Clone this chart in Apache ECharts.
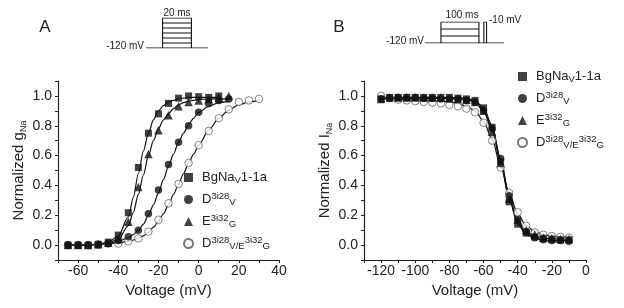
<!DOCTYPE html>
<html>
<head>
<meta charset="utf-8">
<script src="https://cdn.jsdelivr.net/npm/echarts@6/dist/echarts.min.js"></script>
<style>
  html, body { margin: 0; padding: 0; background: #fff; }
  #main { width: 624px; height: 308px; }
</style>
</head>
<body>
<div id="main"></div>
<script>
  var names = ['BgNav1-1a', 'D3i28V', 'E3i32G', 'D3i28V/E3i32G'];

  // panel A: activation (normalized gNa)
  var voltA = [-65, -60, -55, -50, -45, -40, -35, -30, -25, -20, -15, -10, -5, 0, 5, 10, 15, 20, 25, 30];
  var gBg   = [0, 0, 0, 0.005, 0.02, 0.067, 0.217, 0.52, 0.75, 0.88, 0.95, 0.985, 1.0, 0.995, 0.99, 1.0];
  var gD    = [0, 0, 0, 0.005, 0.01, 0.03, 0.056, 0.10, 0.21, 0.37, 0.54, 0.69, 0.80, 0.89, 0.95, 0.97, 0.98];
  var gE    = [0, 0, 0, 0.005, 0.015, 0.04, 0.156, 0.39, 0.61, 0.77, 0.87, 0.93, 0.96, 0.97, 0.98, 0.99, 1.0];
  var gDE   = [0, 0, 0, 0, 0.01, 0.01, 0.025, 0.045, 0.09, 0.17, 0.28, 0.41, 0.55, 0.67, 0.765, 0.85, 0.91, 0.96, 0.97, 0.98];

  // fitted curves
  var fitVoltA = [-65, -60, -55, -50, -45, -40, -35, -32.5, -30, -27.5, -25, -22.5, -20, -17.5, -15, -12.5, -10, -7.5, -5, -2.5, 0, 5, 10, 15, 20, 25, 30];
  var fitBg = [0, 0, 0.002, 0.006, 0.02, 0.06, 0.19, 0.32, 0.48, 0.63, 0.75, 0.84, 0.9, 0.935, 0.96, 0.97, 0.98, 0.985, 0.99, 0.99, 0.99, 0.99, 0.99];
  var fitE  = [0, 0, 0.002, 0.006, 0.015, 0.04, 0.13, 0.22, 0.34, 0.47, 0.6, 0.7, 0.78, 0.84, 0.88, 0.915, 0.94, 0.955, 0.965, 0.97, 0.975, 0.98, 0.98, 0.98];
  var fitD  = [0, 0, 0.002, 0.005, 0.01, 0.025, 0.05, 0.07, 0.1, 0.14, 0.2, 0.27, 0.35, 0.44, 0.53, 0.61, 0.69, 0.75, 0.81, 0.85, 0.89, 0.93, 0.955, 0.965];
  var fitDE = [0, 0, 0.001, 0.003, 0.008, 0.015, 0.025, 0.034, 0.045, 0.062, 0.085, 0.12, 0.16, 0.21, 0.27, 0.34, 0.41, 0.48, 0.55, 0.61, 0.67, 0.77, 0.85, 0.905, 0.94, 0.96, 0.97];

  // panel B: inactivation (normalized INa)
  var voltB = [-120, -115, -110, -105, -100, -95, -90, -85, -80, -75, -70, -65, -60, -55, -50, -45, -40, -35, -30, -25, -20, -15, -10];
  var iBg = [0.98, 0.99, 0.99, 0.99, 0.99, 0.99, 0.99, 0.99, 0.99, 0.985, 0.98, 0.97, 0.92, 0.79, 0.56, 0.29, 0.14, 0.08, 0.055, 0.045, 0.04, 0.035, 0.035];
  var iD  = [0.98, 0.985, 0.99, 0.99, 0.99, 0.985, 0.985, 0.98, 0.98, 0.98, 0.97, 0.96, 0.9, 0.78, 0.58, 0.33, 0.17, 0.09, 0.05, 0.035, 0.03, 0.03, 0.025];
  var iE  = [0.98, 0.99, 0.99, 0.99, 0.99, 0.99, 0.99, 0.99, 0.985, 0.98, 0.975, 0.96, 0.9, 0.76, 0.55, 0.31, 0.17, 0.1, 0.07, 0.05, 0.045, 0.04, 0.04];
  var iDE = [1.0, 0.985, 0.975, 0.97, 0.965, 0.96, 0.955, 0.95, 0.94, 0.93, 0.915, 0.89, 0.82, 0.7, 0.52, 0.35, 0.22, 0.13, 0.085, 0.07, 0.06, 0.055, 0.05];

  var fitBgB = [0.99, 0.99, 0.99, 0.99, 0.99, 0.99, 0.99, 0.99, 0.99, 0.988, 0.985, 0.97, 0.92, 0.8, 0.57, 0.31, 0.14, 0.07, 0.045, 0.035, 0.03, 0.03, 0.03];
  var fitDB  = [0.985, 0.985, 0.985, 0.985, 0.985, 0.985, 0.985, 0.985, 0.983, 0.98, 0.975, 0.96, 0.9, 0.78, 0.58, 0.33, 0.16, 0.08, 0.045, 0.035, 0.03, 0.03, 0.03];
  var fitEB  = [0.985, 0.985, 0.985, 0.985, 0.985, 0.985, 0.985, 0.985, 0.983, 0.98, 0.975, 0.96, 0.9, 0.77, 0.55, 0.31, 0.16, 0.09, 0.06, 0.048, 0.043, 0.04, 0.04];
  var fitDEB = [0.98, 0.98, 0.978, 0.976, 0.975, 0.972, 0.97, 0.965, 0.96, 0.95, 0.93, 0.9, 0.83, 0.71, 0.53, 0.35, 0.21, 0.13, 0.09, 0.07, 0.06, 0.055, 0.05];

  // voltage protocols (ms, step level)
  var protoATimes = [0, 11.5, 31.5, 43];
  var protoASteps = [1, 2, 3, 4, 5, 6];
  var protoBTimes = [0, 42, 142, 155, 162, 208];
  var protoBSteps = [1, 2, 3];

  var FONT = 'Liberation Sans, Arial, sans-serif';

  function pairs(xs, ys) {
    var out = [];
    for (var i = 0; i < ys.length; i++) out.push([xs[i], ys[i]]);
    return out;
  }

  var symbols = ['rect', 'circle', 'triangle', 'circle'];
  var symSize = [7, 7.5, 8.5, 7.5];

  function scatter(name, k, data, gi) {
    var open = k === 3;
    return {
      name: name, type: 'scatter', xAxisIndex: gi, yAxisIndex: gi,
      symbol: symbols[k], symbolSize: symSize[k], z: 5,
      itemStyle: open ? { color: '#fff', borderColor: '#555', borderWidth: 0.9 } : { color: '#111' },
      data: data
    };
  }

  function fit(data, gi) {
    return {
      name: 'fit', type: 'line', xAxisIndex: gi, yAxisIndex: gi, z: 3,
      smooth: 0.3, smoothMonotone: 'x', showSymbol: false, silent: true,
      lineStyle: { color: '#111', width: 1.2 },
      data: data
    };
  }

  function seg(data, gi) {
    return {
      type: 'line', xAxisIndex: gi, yAxisIndex: gi, showSymbol: false, silent: true,
      lineStyle: { color: '#111', width: 1.1 }, data: data
    };
  }

  var series = [
    fit(pairs(fitVoltA, fitBg), 0),
    fit(pairs(fitVoltA, fitE), 0),
    fit(pairs(fitVoltA, fitD), 0),
    fit(pairs(fitVoltA, fitDE), 0),
    fit(pairs(voltB, fitBgB), 1),
    fit(pairs(voltB, fitDB), 1),
    fit(pairs(voltB, fitEB), 1),
    fit(pairs(voltB, fitDEB), 1),
    scatter(names[3], 3, pairs(voltA, gDE), 0),
    scatter(names[1], 1, pairs(voltA, gD), 0),
    scatter(names[2], 2, pairs(voltA, gE), 0),
    scatter(names[0], 0, pairs(voltA, gBg), 0),
    scatter(names[3], 3, pairs(voltB, iDE), 1),
    scatter(names[1], 1, pairs(voltB, iD), 1),
    scatter(names[2], 2, pairs(voltB, iE), 1),
    scatter(names[0], 0, pairs(voltB, iBg), 1)
  ];

  // protocol A
  var ta = protoATimes, topA = protoASteps[protoASteps.length - 1];
  series.push(seg([[ta[0], 0], [ta[3], 0]], 2));
  series.push(seg([[ta[1], 0], [ta[1], topA]], 2));
  series.push(seg([[ta[2], 0], [ta[2], topA]], 2));
  protoASteps.forEach(function (s) { series.push(seg([[ta[1], s], [ta[2], s]], 2)); });
  // protocol B
  var tb = protoBTimes, topB = protoBSteps[protoBSteps.length - 1];
  series.push(seg([[tb[0], 0], [tb[5], 0]], 3));
  series.push(seg([[tb[1], 0], [tb[1], topB]], 3));
  series.push(seg([[tb[2], 0], [tb[2], topB]], 3));
  protoBSteps.forEach(function (s) { series.push(seg([[tb[1], s], [tb[2], s]], 3)); });
  series.push(seg([[tb[3], 0], [tb[3], topB], [tb[4], topB], [tb[4], 0]], 3));

  var legendRich = {
    g: { width: 4 },
    n: { fontSize: 13, fontFamily: FONT, color: '#222', lineHeight: 16 },
    sup: { fontSize: 9.5, fontFamily: FONT, color: '#222', lineHeight: 10, verticalAlign: 'top' },
    sub: { fontSize: 9.5, fontFamily: FONT, color: '#222', lineHeight: 10, verticalAlign: 'bottom' }
  };
  var legendText = {
    'BgNav1-1a': '{g| }{n|BgNa}{sub|V}{n|1-1a}',
    'D3i28V': '{g| }{n|D}{sup|3i28}{sub|V}',
    'E3i32G': '{g| }{n|E}{sup|3i32}{sub|G}',
    'D3i28V/E3i32G': '{g| }{n|D}{sup|3i28}{sub|V/E}{sup|3i32}{sub|G}'
  };

  function legend(left, top) {
    return {
      left: left, top: top, orient: 'vertical', itemWidth: 9, itemHeight: 9, itemGap: 6,
      data: names, selectedMode: false,
      formatter: function (n) { return legendText[n]; },
      textStyle: { rich: legendRich }
    };
  }

  function xAxis(gi, min, max) {
    return {
      type: 'value', gridIndex: gi, min: min, max: max, interval: 10,
      name: 'Voltage (mV)', nameLocation: 'middle', nameGap: 23,
      nameTextStyle: { fontSize: 15, fontFamily: FONT, color: '#222' },
      splitLine: { show: false },
      axisLine: { onZero: false, lineStyle: { color: '#222', width: 1.2 } },
      axisTick: { length: 3, lineStyle: { color: '#222' } },
      axisLabel: {
        fontSize: 14, fontFamily: FONT, color: '#222', margin: 4,
        formatter: function (v) { return v % 20 === 0 ? String(v) : ''; }
      }
    };
  }

  function yAxis(gi, sym) {
    return {
      type: 'value', gridIndex: gi, min: -0.1, max: 1.1, interval: 0.1,
      name: '{a|Normalized ' + sym + '}{s|Na}', nameLocation: 'middle', nameGap: 30,
      nameTextStyle: {
        rich: {
          a: { fontSize: 15, fontFamily: FONT, color: '#222', lineHeight: 18 },
          s: { fontSize: 9, fontFamily: FONT, color: '#222', lineHeight: 10, verticalAlign: 'bottom' }
        }
      },
      splitLine: { show: false },
      axisLine: { onZero: false, lineStyle: { color: '#222', width: 1.2 } },
      axisTick: { length: 3, lineStyle: { color: '#222' } },
      axisLabel: {
        fontSize: 14, fontFamily: FONT, color: '#222', margin: 6,
        formatter: function (v) {
          var r = Math.round(v * 10);
          return (r % 2 === 0 && r >= 0 && r <= 10) ? (r / 10).toFixed(1) : '';
        }
      }
    };
  }

  function hidden(gi, min, max) {
    return { type: 'value', gridIndex: gi, min: min, max: max, show: false };
  }

  function txt(x, y, s, size, align) {
    return {
      type: 'text', x: x, y: y,
      style: { text: s, fontSize: size, fontFamily: FONT, fill: '#222', align: align || 'left', verticalAlign: 'middle' }
    };
  }

  var option = {
    backgroundColor: '#fff',
    animation: false,
    grid: [
      { left: 58, right: 345, top: 81, bottom: 48 },
      { left: 364, right: 38, top: 81, bottom: 48 },
      { left: 146, width: 62, top: 18, height: 30 },
      { left: 425, width: 79, top: 22, height: 21 }
    ],
    xAxis: [xAxis(0, -70, 40), xAxis(1, -130, 0), hidden(2, 0, 43), hidden(3, 0, 208)],
    yAxis: [yAxis(0, 'g'), yAxis(1, 'I'), hidden(2, 0, 6), hidden(3, 0, 3)],
    legend: [legend(178, 166), legend(512, 65)],
    graphic: [
      txt(45, 27, 'A', 17, 'center'),
      txt(339, 27, 'B', 17, 'center'),
      txt(144, 46, '-120 mV', 10, 'right'),
      txt(177, 13, '20 ms', 10, 'center'),
      txt(424, 41, '-120 mV', 10, 'right'),
      txt(462, 15, '100 ms', 10, 'center'),
      txt(489, 20, '-10 mV', 10, 'left')
    ],
    series: series
  };

  var chart = echarts.init(document.getElementById('main'));
  chart.setOption(option);
</script>
</body>
</html>
